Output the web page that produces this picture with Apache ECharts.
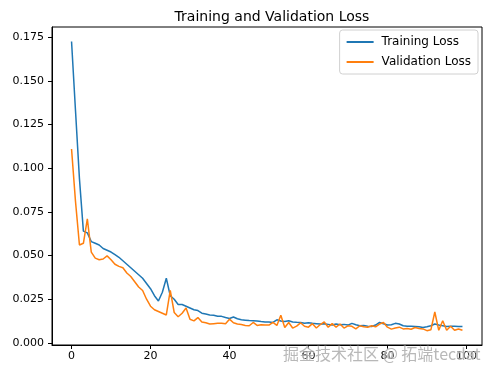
<!DOCTYPE html>
<html lang="en">
<head>
<meta charset="UTF-8">
<title>Training and Validation Loss</title>
<script src="https://cdn.jsdelivr.net/npm/echarts@6.0.0/dist/echarts.min.js"></script>
<style>
    html, body { margin: 0; padding: 0; background: #fff; }
    #chart { width: 490px; height: 376px; }
</style>
</head>
<body>
<div id="chart"></div>
<script>
    // loss per epoch
    const trainLoss = [
        0.1725, 0.133, 0.094, 0.064, 0.063, 0.058, 0.057, 0.056, 0.054, 0.053,
        0.052, 0.0505, 0.049, 0.047, 0.045, 0.043, 0.041, 0.039, 0.037, 0.034,
        0.031, 0.027, 0.024, 0.029, 0.037, 0.027, 0.025, 0.022, 0.022, 0.021,
        0.020, 0.019, 0.0185, 0.017, 0.0165, 0.016, 0.0158, 0.0152, 0.0152, 0.0145,
        0.014, 0.0148, 0.0138, 0.0132, 0.013, 0.0128, 0.0127, 0.0125, 0.0122, 0.012,
        0.012, 0.0117, 0.0132, 0.0125, 0.0122, 0.0127, 0.012, 0.0118, 0.0117, 0.0113,
        0.0115, 0.0112, 0.011, 0.0108, 0.011, 0.0106, 0.0102, 0.0108, 0.0104, 0.0106,
        0.0102, 0.0112, 0.0104, 0.0098, 0.010, 0.0096, 0.0094, 0.0102, 0.0117, 0.011,
        0.0102, 0.0104, 0.0112, 0.0108, 0.0098, 0.0096, 0.0095, 0.0094, 0.0092, 0.0088,
        0.0092, 0.0098, 0.0108, 0.0102, 0.0098, 0.0094, 0.0096, 0.0095, 0.0094, 0.0094
    ];
    const valLoss = [
        0.111, 0.081, 0.056, 0.057, 0.071, 0.052, 0.0485, 0.0476, 0.048, 0.0498,
        0.0476, 0.045, 0.0438, 0.043, 0.040, 0.038, 0.035, 0.032, 0.030, 0.025,
        0.021, 0.019, 0.018, 0.017, 0.016, 0.030, 0.0174, 0.015, 0.017, 0.020,
        0.0135, 0.0126, 0.0145, 0.012, 0.0115, 0.0108, 0.011, 0.0112, 0.0113, 0.011,
        0.0136, 0.0115, 0.0108, 0.0105, 0.010, 0.0098, 0.0117, 0.010, 0.0104, 0.0102,
        0.0102, 0.0117, 0.010, 0.0158, 0.0088, 0.0117, 0.0085, 0.0096, 0.0115, 0.0095,
        0.009, 0.011, 0.0085, 0.0105, 0.012, 0.009, 0.011, 0.009, 0.0108, 0.0085,
        0.0098, 0.0095, 0.008, 0.0098, 0.0092, 0.009, 0.0098, 0.0092, 0.0108, 0.0117,
        0.009, 0.0079, 0.0085, 0.009, 0.008, 0.0083, 0.0078, 0.0088, 0.0082, 0.008,
        0.007, 0.0075, 0.0177, 0.0072, 0.0127, 0.0072, 0.0095, 0.0072, 0.008, 0.0072
    ];
    const xTicks = [0, 20, 40, 60, 80, 100];
    const yTicks = [0, 0.025, 0.05, 0.075, 0.1, 0.125, 0.15, 0.175];

    const toPairs = arr => arr.map((v, i) => [i, v]);
    const font = 'DejaVu Sans';

    const myChart = echarts.init(document.getElementById('chart'));
    myChart.setOption({
        animation: false,
        title: {
            text: 'Training and Validation Loss',
            left: 267, top: 5, textAlign: 'center',
            textStyle: { fontFamily: font, fontSize: 14, fontWeight: 'normal', color: '#000' }
        },
        legend: {
            orient: 'vertical',
            right: 12, top: 30,
            padding: [6, 7, 6, 7],
            itemGap: 8,
            itemWidth: 27, itemHeight: 2,
            icon: 'rect',
            backgroundColor: '#fff',
            borderColor: '#d0d0d0', borderWidth: 1, borderRadius: 3,
            textStyle: { fontFamily: font, fontSize: 12, color: '#000', padding: [0, 0, 0, 3] },
            data: ['Training Loss', 'Validation Loss']
        },
        grid: {
            left: 52, right: 8, top: 27, bottom: 31,
            show: true, borderColor: '#000', borderWidth: 1, backgroundColor: 'transparent'
        },
        xAxis: {
            type: 'value', min: -4.95, max: 103.95,
            splitLine: { show: false },
            axisLine: { show: true, onZero: false, lineStyle: { color: '#000', width: 1 } },
            axisTick: { show: true, length: 4, customValues: xTicks, lineStyle: { color: '#000' } },
            axisLabel: { customValues: xTicks, margin: 6, fontFamily: font, fontSize: 11, color: '#000' }
        },
        yAxis: {
            type: 'value', min: -0.0012, max: 0.1808,
            splitLine: { show: false },
            axisLine: { show: true, onZero: false, lineStyle: { color: '#000', width: 1 } },
            axisTick: { show: true, length: 4, customValues: yTicks, lineStyle: { color: '#000' } },
            axisLabel: {
                customValues: yTicks, margin: 8, fontFamily: font, fontSize: 11, color: '#000',
                formatter: v => v.toFixed(3)
            }
        },
        series: [
            {
                name: 'Training Loss', type: 'line', data: toPairs(trainLoss),
                showSymbol: false, color: '#1f77b4', lineStyle: { width: 1.5 }
            },
            {
                name: 'Validation Loss', type: 'line', data: toPairs(valLoss),
                showSymbol: false, color: '#ff7f0e', lineStyle: { width: 1.5 }
            }
        ],
        graphic: [{
            type: 'text', right: 9, top: 345, z: 100,
            style: {
                text: '掘金技术社区 @ 拓端tecdat',
                font: '16px "Noto Sans CJK SC"',
                fill: 'rgba(160,160,160,0.75)',
                stroke: 'rgba(255,255,255,0.6)', lineWidth: 1
            }
        }]
    });
</script>
</body>
</html>
